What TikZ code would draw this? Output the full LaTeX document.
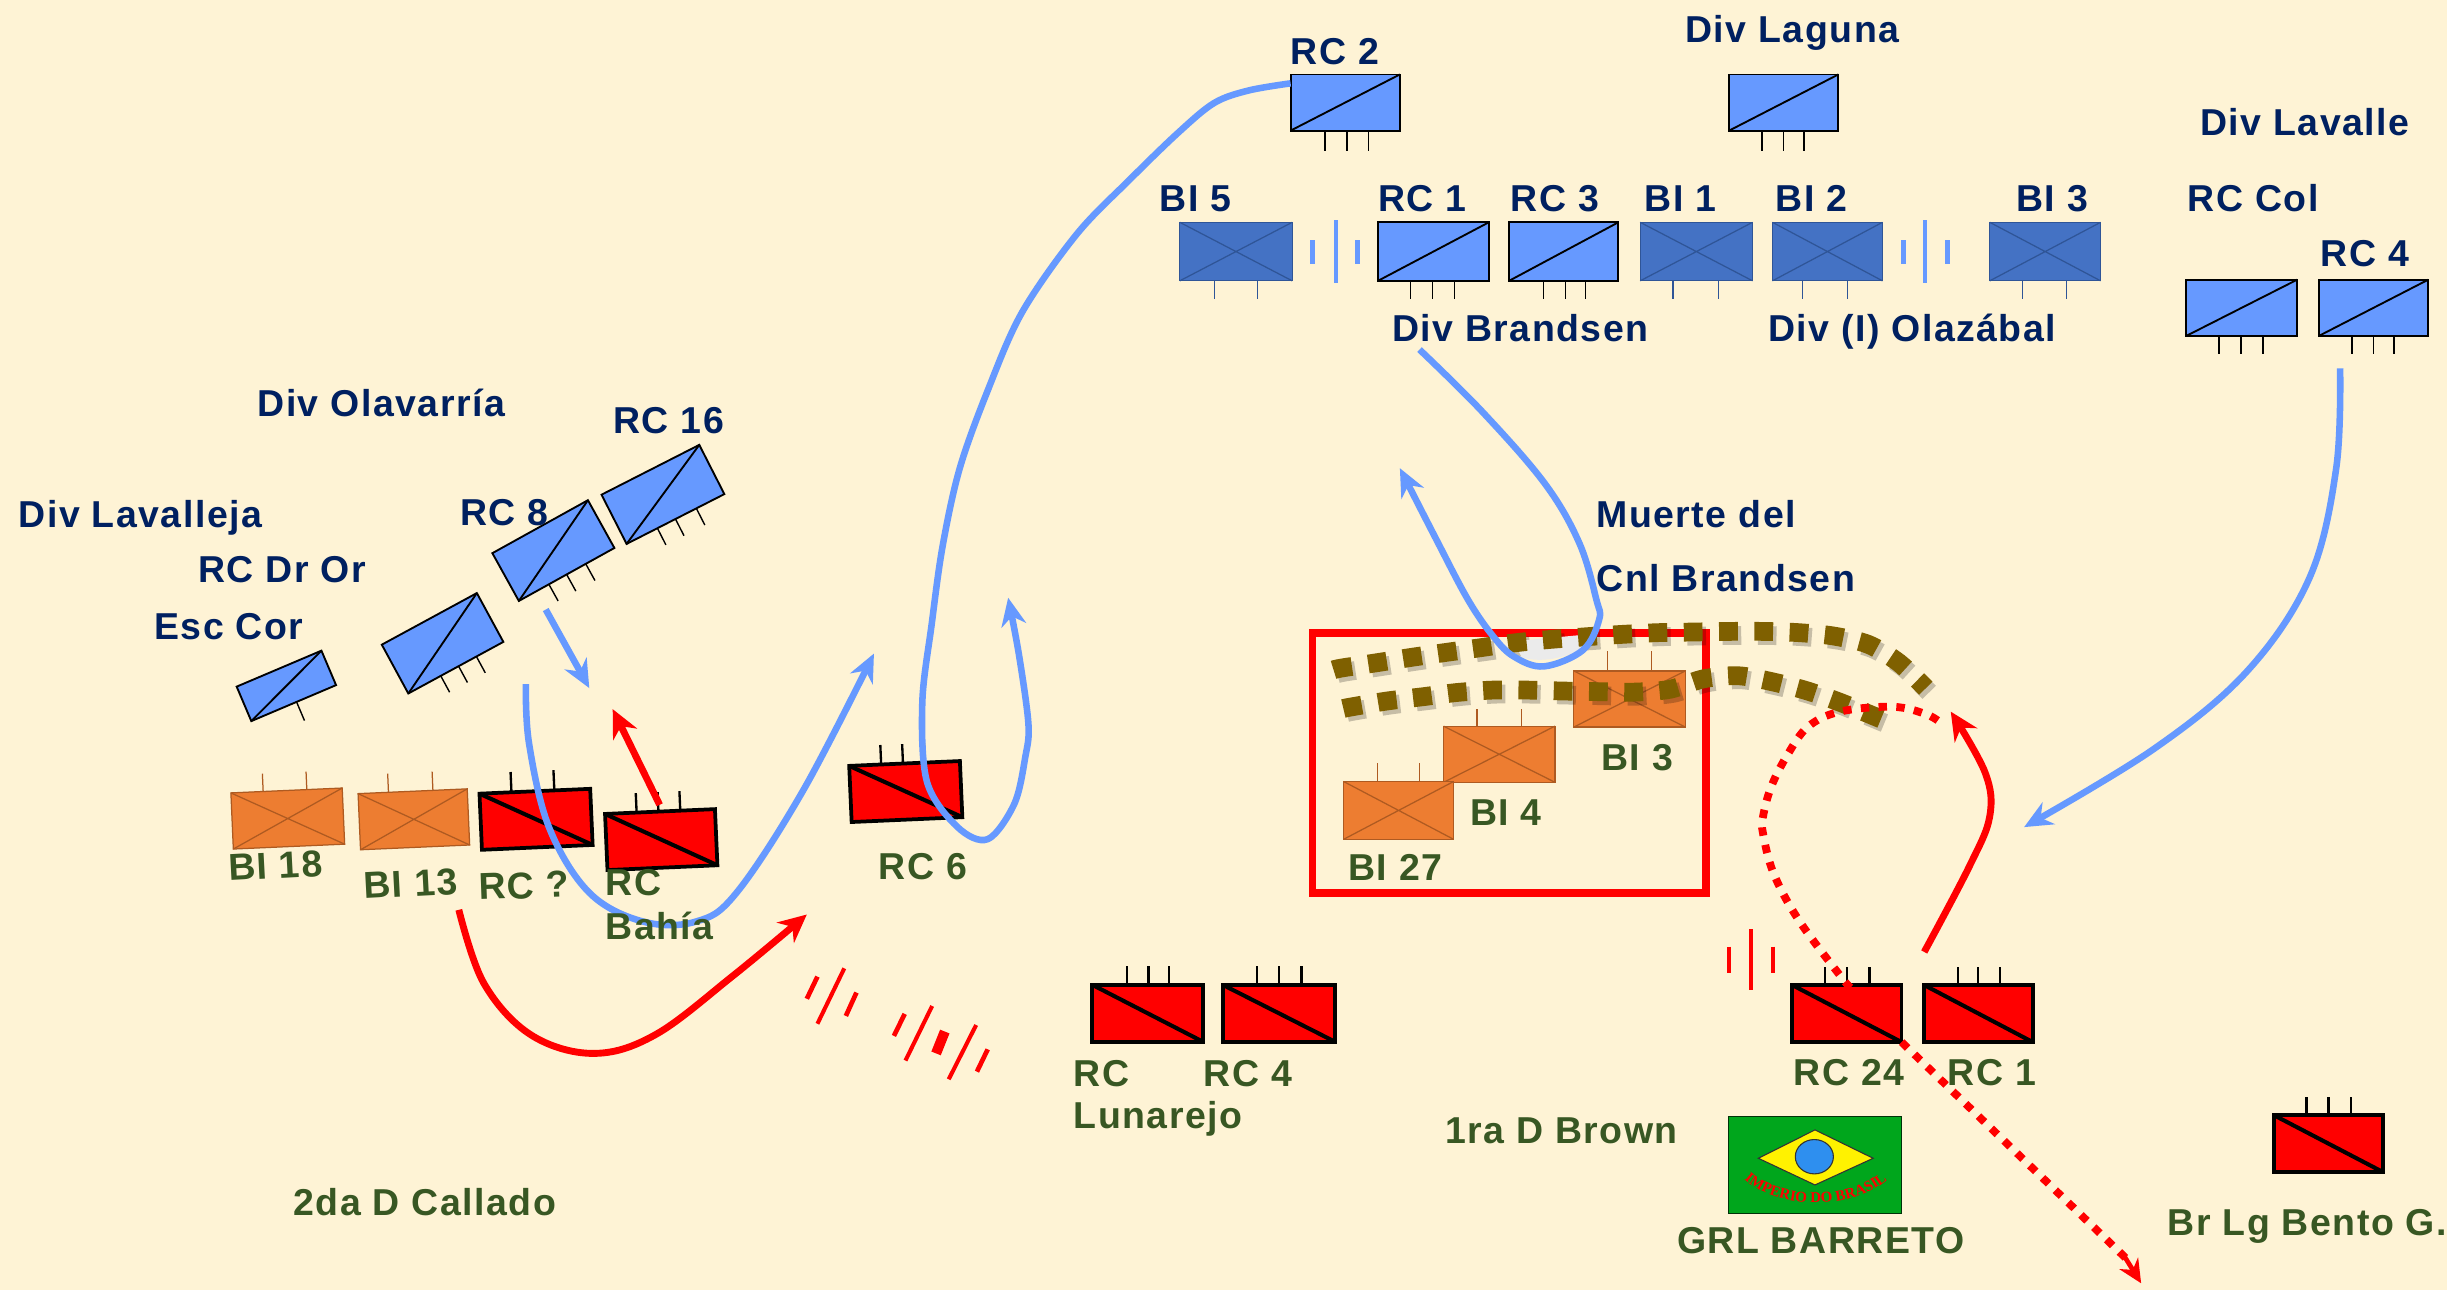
\documentclass[tikz,border=0pt]{standalone}
\usepackage{fontspec}
\setmainfont[LetterSpace=4]{Liberation Sans}
\newfontfamily\flagfont{Liberation Serif}
\usetikzlibrary{arrows.meta,shapes.geometric,decorations.text}
\definecolor{paper}{HTML}{FEF3D5}
\definecolor{cavfill}{HTML}{6699FF}
\definecolor{bifill}{HTML}{4472C4}
\definecolor{biline}{HTML}{2F5597}
\definecolor{orfill}{HTML}{ED7D31}
\definecolor{orline}{HTML}{AE5A21}
\definecolor{dotbrown}{HTML}{7F6000}
\definecolor{txtblue}{HTML}{002060}
\definecolor{txtgreen}{HTML}{385723}
\definecolor{flaggreen}{HTML}{00A61C}
\definecolor{globeblue}{HTML}{2E8FEF}
\tikzset{
  x=1pt,y=-1pt,
  cavblue/.style={draw=black,fill=cavfill,line width=1.2pt},
  cavblue tick/.style={draw=black,line width=.9pt},
  biblue/.style={draw=biline,fill=bifill,line width=.8pt},
  biblue tick/.style={draw=biline,line width=.8pt},
  cavred/.style={draw=black,fill=red,line width=2.4pt},
  cavred tick/.style={draw=black,line width=1.5pt},
  biorange/.style={draw=orline,fill=orfill,line width=.8pt},
  biorange tick/.style={draw=orline,line width=.8pt},
  unitnode/.style={rectangle,inner sep=0pt,outer sep=0pt},
  bluelab/.style={text=txtblue},
  greenlab/.style={text=txtgreen},
  lab/.style={inner sep=0pt,outer sep=0pt,anchor=base west,font=\fontsize{24}{28}\selectfont\bfseries},
  bluemove/.style={draw=cavfill,line width=4.2pt,-{Stealth[length=18pt,width=16pt]}},
  redmove/.style={draw=red,line width=4.4pt,-{Stealth[length=18pt,width=17pt]}},
  reddots/.style={draw=red,line width=5pt,dash pattern=on 5.4pt off 6pt},
  redsep/.style={draw=red,line width=2.6pt},
  bluesep/.style={draw=cavfill,line width=2.6pt},
  browndots/.style={draw=dotbrown,line width=12pt,dash pattern=on 12pt off 10.6pt},
  brownshadow/.style={draw=black,opacity=.22,line width=12pt,dash pattern=on 12pt off 10.6pt},
}
% name, centre, w, h, rotation, style, tick offsets, tick end (local y)
\newcommand{\unitsym}[8]{%
  \begin{scope}[shift={(#2)},rotate=#5]
    \foreach \tk in {#7} \draw[#6 tick] (\tk,0) -- (\tk,#8);
  \end{scope}
  \node[unitnode,#6,minimum width=#3pt,minimum height=#4pt,rotate=#5] (#1) at (#2) {};
}
\newcommand{\diagup}[1]{\draw[black,line width=1.2pt] (#1.south west) -- (#1.north east);}
\newcommand{\diagdn}[1]{\draw[black,line width=2.6pt] (#1.north west) -- (#1.south east);}
\newcommand{\diagx}[2]{\draw[#2,line width=.8pt] (#1.south west) -- (#1.north east) (#1.north west) -- (#1.south east);}
\newcommand{\lab}[5][0]{\node[lab,#3,rotate=#1] (#2) at (#4) {#5};}
\newcommand{\browna}{(854.5,429.2) (860,428) (882,424.7) (904.6,421.2) (927,418) (949,415) (971.7,411.8) (993.8,409.7) (1016.7,408) (1039.4,406.5) (1062,405.4) (1084.4,405) (1107,404.6) (1130,404.6) (1152.7,405.4) (1175.3,407.6) (1197.4,413) (1216.8,424.7) (1234,441)}
\newcommand{\brownb}{(860.8,454) (866.4,452.9) (888.7,449.2) (911.4,446.5) (934,443.7) (956.4,442.2) (979,442.2) (1001.7,442.8) (1024.4,443.2) (1047,443.5) (1070,441.7) (1091.5,435) (1113.8,433) (1136.2,437) (1157.7,442.6) (1179,450) (1206,461)}
\begin{document}
\begin{tikzpicture}
\useasboundingbox (0,0) rectangle (1568,826.6);
\fill[paper] (0,0) rectangle (1568,826.6);

% --- blue cavalry and infantry, top
\unitsym{rcii}{862,65.7}{70}{36}{0}{cavblue}{-13,1,15}{31}\diagup{rcii}
\unitsym{lag}{1143,65.7}{70}{36}{0}{cavblue}{-14,0,13}{31}\diagup{lag}
\unitsym{bivb}{792,161.2}{72}{37.5}{0}{biblue}{-14,14}{30.4}\diagx{bivb}{biline}
\unitsym{rci}{918.5,161.2}{71}{37.5}{0}{cavblue}{-14.5,-.5,13.5}{30.4}\diagup{rci}
\unitsym{rciii}{1002,161.2}{70}{37.5}{0}{cavblue}{-13,1,14}{30.4}\diagup{rciii}
\unitsym{bii}{1087,161.2}{72}{37.5}{0}{biblue}{-15,14}{30.4}\diagx{bii}{biline}
\unitsym{biii}{1171,161.2}{70.5}{37.5}{0}{biblue}{-16,13}{30.4}\diagx{biii}{biline}
\unitsym{biiii}{1310.5,161.2}{71}{37.5}{0}{biblue}{-14.5,13.5}{30.4}\diagx{biiii}{biline}
\unitsym{rccol}{1436.5,197.2}{71}{36}{0}{cavblue}{-14.5,-.5,13.5}{29.8}\diagup{rccol}
\unitsym{rcivb}{1521,197.2}{70}{36}{0}{cavblue}{-14,0,13}{29.8}\diagup{rcivb}

% --- separators
\draw[bluesep] (856,141) -- (856,181.6);
\draw[bluesep,line width=3pt] (841,154) -- (841,169) (870,154) -- (870,169);
\draw[bluesep] (1233.5,141) -- (1233.5,181.6);
\draw[bluesep,line width=3pt] (1219.5,154) -- (1219.5,169) (1248,154) -- (1248,169);

% --- blue cavalry, left, rotated
\unitsym{rcxvi}{424.8,316.8}{70.3}{35.4}{27}{cavblue}{-13,0,15}{29.7}\diagup{rcxvi}
\unitsym{rcviii}{354.6,352.8}{70}{35}{29}{cavblue}{-13,0,14}{29.7}\diagup{rcviii}
\unitsym{rcdror}{283.6,412.2}{69.3}{35.6}{28.5}{cavblue}{-11,2,15}{29.7}\diagup{rcdror}
\unitsym{esccor}{183.5,439.5}{59}{24}{23}{cavblue}{2}{25}\diagup{esccor}

% --- orange infantry and red cavalry, left
\unitsym{bixviii}{184.4,524.5}{71.4}{36}{2.5}{biorange}{-15,13}{-29.5}\diagx{bixviii}{orline}
\unitsym{bixiii}{265.2,525}{70}{36}{2.5}{biorange}{-15.5,13}{-30}\diagx{bixiii}{orline}
\unitsym{rcq}{343.5,525}{71}{36}{2.5}{cavred}{-15,12.5}{-31}\diagdn{rcq}
\unitsym{rcbahia}{423.7,538}{70.5}{36}{2.5}{cavred}{-15,-1,13}{-30.5}\diagdn{rcbahia}
\unitsym{rcvi}{580.4,507.2}{71}{36}{2.5}{cavred}{-15,-1,13}{-30.5}\diagdn{rcvi}

% --- red cavalry, bottom
\unitsym{rclun}{735.4,649.3}{71}{36.5}{0}{cavred}{-13.4,.6,13.6}{-30.3}\diagdn{rclun}
\unitsym{rcivr}{819.5,649.3}{72}{36.5}{0}{cavred}{-14,.2,14.5}{-30.3}\diagdn{rcivr}
\unitsym{rcxxiv}{1183.5,649.5}{70}{36.5}{0}{cavred}{-13.9,.2,14.5}{-30.1}\diagdn{rcxxiv}
\unitsym{rcir}{1267.8,649.5}{69.5}{36.5}{0}{cavred}{-13.1,-.2,13.9}{-30.1}\diagdn{rcir}
\unitsym{bento}{1492,732.8}{70}{36.5}{0}{cavred}{-14,0,14.3}{-30.1}\diagdn{bento}

% --- red sector box and orange infantry inside
\node[rectangle,draw=red,line width=5pt,inner sep=0pt,minimum width=252pt,minimum height=166.5pt] (sector) at (967,488.8) {};
\unitsym{biiiio}{1044.2,447.9}{71.5}{36}{0}{biorange}{-14.2,14}{-30.9}\diagx{biiiio}{orline}
\unitsym{biiv}{960.7,483.3}{71.4}{36}{0}{biorange}{-14.3,14}{-29.3}\diagx{biiv}{orline}
\unitsym{bixxvii}{896.2,519.3}{70.4}{37}{0}{biorange}{-13.6,13.4}{-30.3}\diagx{bixxvii}{orline}

% --- flag
\node[rectangle,draw=black!70!flaggreen,fill=flaggreen,line width=.7pt,minimum width=111pt,minimum height=62pt,inner sep=0pt] (flag) at (1163.2,746.5) {};
\fill[yellow,draw=black!80,line width=.7pt] (1126.7,742.2) -- (1163,724) -- (1200.3,742.2) -- (1163,759.3) -- cycle;
\node[ellipse,draw=black!80,fill=globeblue,line width=.7pt,minimum width=24.4pt,minimum height=22pt,inner sep=0pt] (globe) at (1162.6,741.2) {};
\coordinate (arcl) at (1113,751);
\coordinate (arcr) at (1214,751);
\path[decorate,decoration={text along path,text align=center,text={|\flagfont\fontsize{9.6}{10}\selectfont\bfseries\color{red}|IMPERIO DO BRASIL}}] (arcl) .. controls (1133,777) and (1194,777) .. (arcr);

% --- brown dotted lines
\begin{scope}[shift={(2.2,2.6)}]
  \draw[brownshadow] plot[smooth,tension=.5] coordinates {\browna};
  \draw[brownshadow] plot[smooth,tension=.5] coordinates {\brownb};
\end{scope}
% pale patch inside the loop
\fill[white!92!black] (975,421) .. controls (985,425) and (1005,422) .. (1013,415) -- (1012,407) -- (970,411) -- cycle;
\draw[browndots] plot[smooth,tension=.5] coordinates {\browna};
\draw[browndots] plot[smooth,tension=.5] coordinates {\brownb};

% --- red separators
\draw[redsep] (541,620.5) -- (523.8,656);
\draw[redsep,line width=3pt] (523.8,625.8) -- (517,640) (548.8,636) -- (542,651);
\draw[redsep] (597.3,644.6) -- (580.2,679.6) (625.5,656.8) -- (607.9,691.6);
\draw[redsep,line width=3pt] (579.7,649.7) -- (572.8,663.8) (632.9,672.4) -- (626,686.7);
\draw[redsep,line width=6.5pt] (605.4,661) -- (599.8,675);
\draw[redsep] (1122,595.3) -- (1122,634.4);
\draw[redsep,line width=3pt] (1108,606.6) -- (1108,623.3) (1136,606.6) -- (1136,623.3);

% --- manoeuvre arrows
\coordinate (arrowA) at (827,53.4);
\draw[bluemove] plot[smooth,tension=.55] coordinates {(arrowA) (800,58) (778,66) (755,85) (724,115) (690,150) (655,200) (633,250) (615,300) (604,350) (597,400) (591,450) (594,501) (613.6,530) (633,537.7) (650,515) (657,485) (659,464) (653,420) (646,383)};
\coordinate (arrowB) at (337,438.4);
\draw[bluemove] plot[smooth,tension=.6] coordinates {(arrowB) (339,476.4) (351.9,530.4) (377.6,572) (412,590.5) (446,590.5) (472,572) (515,505.9) (560,418.8)};
\coordinate (arrowC) at (349.7,390.6);
\coordinate (arrowCe) at (377.6,440.9);
\draw[bluemove] (arrowC) -- (arrowCe);
\coordinate (arrowE) at (909.6,224);
\draw[bluemove] plot[smooth,tension=.6] coordinates {(arrowE) (950,264) (990,310) (1012,348) (1023,384.5) (1024.7,397) (1014.4,416.5) (989.4,427) (970.2,420.8) (957,408) (940.8,384.5) (920,345) (897,300)};
\coordinate (arrowF) at (1499.5,236);
\draw[bluemove] plot[smooth,tension=.6] coordinates {(arrowF) (1497,300) (1480,370) (1440,430) (1380,480) (1297,530)};
\coordinate (arrowG) at (422.7,515.7);
\coordinate (arrowGe) at (392.6,454.4);
\draw[redmove] (arrowG) -- (arrowGe);
\coordinate (arrowD) at (294,583);
\draw[redmove] plot[smooth,tension=.6] coordinates {(arrowD) (310,630) (340,663) (380,675) (420,663) (470,625) (517,586)};
\coordinate (arrowH) at (1233,610);
\draw[redmove] plot[smooth,tension=.6] coordinates {(arrowH) (1262,555) (1275,523) (1272,495) (1250,456)};
\draw[reddots] plot[smooth,tension=.6] coordinates {(1186,633) (1179.7,625.9) (1152.6,589.6) (1136.5,559.7) (1129.7,534) (1129.7,523.3) (1135,504) (1145.3,483.8) (1158.5,465.7) (1179,456) (1213,452.9) (1235,458) (1245.3,464.6)};
\coordinate (arrowIe) at (1372,822.3);
\draw[reddots] (rcxxiv.south east) -- (1362,806);
\draw[red,line width=3pt,-{Stealth[length=15pt,width=14pt]}] (1360,803) -- (arrowIe);

% --- labels
\lab{lc2}{bluelab}{827,41.5}{RC 2}
\lab{llag}{bluelab}{1080,27.5}{Div Laguna}
\lab{llav}{bluelab}{1410,87}{Div Lavalle}
\lab{lbi5}{bluelab}{743,135.5}{BI 5}
\lab{lrc1}{bluelab}{883,135.5}{RC 1}
\lab{lrc3}{bluelab}{968,135.5}{RC 3}
\lab{lbi1}{bluelab}{1054,135.5}{BI 1}
\lab{lbi2}{bluelab}{1138,135.5}{BI 2}
\lab{lbi3}{bluelab}{1292,135.5}{BI 3}
\lab{lcol}{bluelab}{1402,135.5}{RC Col}
\lab{lrc4}{bluelab}{1487,171}{RC 4}
\lab{lbra}{bluelab}{892,219}{Div Brandsen}
\lab{lola}{bluelab}{1133,219}{Div (I) Olazábal}
\lab{lolv}{bluelab}{165,267}{Div Olavarría}
\lab{l16}{bluelab}{393,278}{RC 16}
\lab{llj}{bluelab}{12,337.7}{Div Lavalleja}
\lab{l8}{bluelab}{295,336.5}{RC 8}
\lab{ldr}{bluelab}{127,373}{RC Dr Or}
\lab{lesc}{bluelab}{99,410}{Esc Cor}
\lab{lmu}{bluelab}{1023,338}{Muerte del}
\lab{lcn}{bluelab}{1023,379}{Cnl Brandsen}
\lab[3]{l18}{greenlab}{146.8,564.5}{BI 18}
\lab[3]{l13}{greenlab}{233.5,576}{BI 13}
\lab[2]{lq}{greenlab}{307,576.7}{RC ?}
\lab{lrcb}{greenlab}{388,574}{RC}
\lab{lbah}{greenlab}{388,602}{Bahía}
\lab{lr6}{greenlab}{563,563.7}{RC 6}
\lab{lda}{greenlab}{188,779}{2da D Callado}
\lab{lrcl}{greenlab}{688,696}{RC}
\lab{llun}{greenlab}{688,723}{Lunarejo}
\lab{lr4}{greenlab}{771.4,696}{RC 4}
\lab{lb3}{greenlab}{1026,493.5}{BI 3}
\lab{lb4}{greenlab}{942,529}{BI 4}
\lab{lb27}{greenlab}{864,564.5}{BI 27}
\lab{lr24}{greenlab}{1149.5,695.5}{RC 24}
\lab{lr1}{greenlab}{1248,695.5}{RC 1}
\lab{lbro}{greenlab}{926,732.5}{1ra D Brown}
\lab{lgrl}{greenlab}{1074.6,803}{GRL BARRETO}
\lab{lben}{greenlab}{1389,791.7}{Br Lg Bento G.}
\end{tikzpicture}
\end{document}
